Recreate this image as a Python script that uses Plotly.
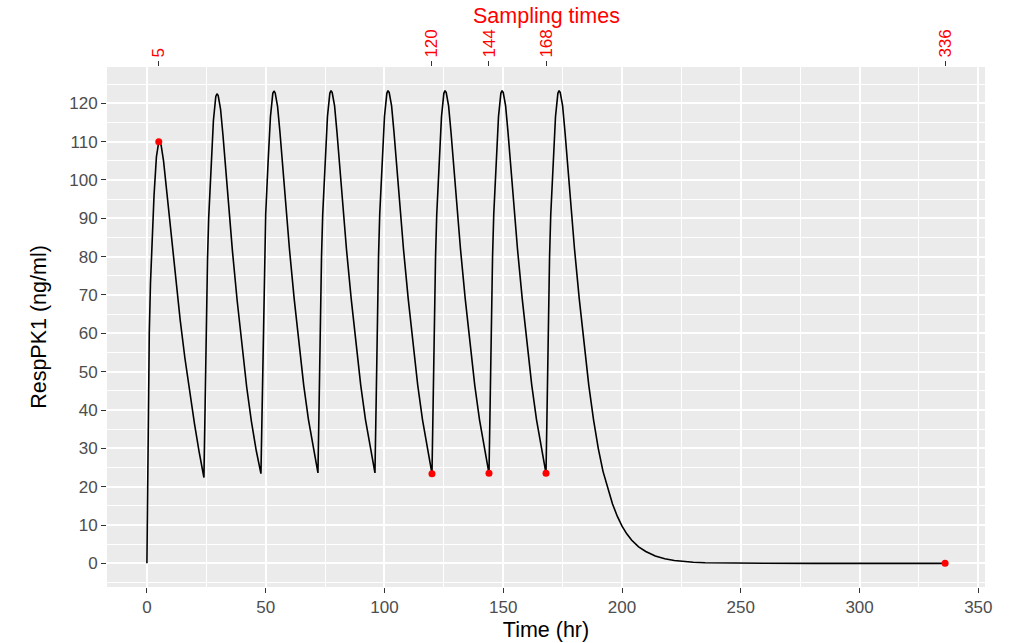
import plotly.graph_objects as go

# Dosing schedule (hr) and the time grid within each 24 h dosing interval
dose_times = [0, 24, 48, 72, 96, 120, 144, 168]
hours_after_dose = [0, 0.5, 1, 1.5, 2, 3, 4, 5, 5.5, 6, 7, 8, 10, 12, 14, 16, 18, 20, 22]

# RespPK1 concentration (ng/ml) for each dosing interval
conc_dose1 = [0.0, 35.0, 60.0, 73.0, 82.0, 96.0, 106.0, 110.0, 109.8, 109.0, 105.0, 99.0, 86.0, 74.0, 63.5, 53.5, 44.5, 36.5, 29.0]
conc_dose2 = [22.4, 41.0, 64.0, 79.0, 90.0, 103.5, 115.5, 121.8, 122.5, 122.0, 118.5, 111.8, 96.0, 81.5, 68.5, 57.5, 46.0, 37.0, 29.5]
conc_dose3 = [23.4, 42.0, 65.0, 80.0, 91.0, 104.5, 116.5, 122.6, 123.2, 122.7, 119.2, 112.5, 96.5, 82.0, 69.0, 58.0, 46.5, 37.5, 30.0]
conc_dose4 = [23.6, 42.0, 65.0, 80.0, 91.0, 104.5, 116.5, 122.6, 123.3, 122.8, 119.3, 112.5, 96.5, 82.0, 69.0, 58.0, 46.5, 37.5, 30.0]
conc_dose5 = [23.6, 42.0, 65.0, 80.0, 91.0, 104.5, 116.5, 122.6, 123.3, 122.8, 119.3, 112.5, 96.5, 82.0, 69.0, 58.0, 46.5, 37.5, 30.0]
conc_dose6 = [23.4, 42.0, 65.0, 80.0, 91.0, 104.5, 116.5, 122.6, 123.3, 122.8, 119.3, 112.5, 96.5, 82.0, 69.0, 58.0, 46.5, 37.5, 30.0]
conc_dose7 = [23.5, 42.0, 65.0, 80.0, 91.0, 104.5, 116.5, 122.6, 123.3, 122.8, 119.3, 112.5, 96.5, 82.0, 69.0, 58.0, 46.5, 37.5, 30.0]
conc_dose8 = [23.5, 42.0, 65.0, 80.0, 91.0, 104.5, 116.5, 122.6, 123.3, 122.8, 119.3, 112.5, 96.5, 82.0, 69.0, 58.0, 46.5, 37.5, 30.0]

# Washout after the last dose
washout_times = [192, 194, 196, 198, 200, 202, 204, 207, 210, 214, 218, 222, 226, 230, 235, 240, 250, 260, 280, 300, 336]
washout_conc = [24.0, 19.5, 15.5, 12.3, 9.7, 7.7, 6.1, 4.3, 3.1, 1.9, 1.2, 0.75, 0.47, 0.3, 0.17, 0.1, 0.035, 0.012, 0.002, 0.0, 0.0]

# Sampling times and the concentrations observed there
sample_times = [5, 120, 144, 168, 336]
sample_conc = [110.0, 23.4, 23.5, 23.5, 0.0]

# Axis breaks
x_ticks = [0, 50, 100, 150, 200, 250, 300, 350]
y_ticks = [0, 10, 20, 30, 40, 50, 60, 70, 80, 90, 100, 110, 120]

interval_conc = [conc_dose1, conc_dose2, conc_dose3, conc_dose4,
                 conc_dose5, conc_dose6, conc_dose7, conc_dose8]

time_all, conc_all = [], []
for start, conc in zip(dose_times, interval_conc):
    time_all += [start + h for h in hours_after_dose]
    conc_all += conc
time_all += washout_times
conc_all += washout_conc

FONT = "Liberation Sans, Arial, sans-serif"
GRID = "#FFFFFF"
PANEL = "#EBEBEB"

fig = go.Figure()
fig.add_trace(go.Scatter(
    x=time_all, y=conc_all, mode="lines",
    line=dict(color="black", width=1.6),
    hoverinfo="skip", showlegend=False,
))
fig.add_trace(go.Scatter(
    x=sample_times, y=sample_conc, mode="markers", xaxis="x2",
    marker=dict(color="#FF0000", size=7, line=dict(width=0)),
    showlegend=False,
))

x_min, x_max = 0, 336
x_pad = 0.05 * (x_max - x_min)
y_min, y_max = 0, max(conc_all)
y_pad = 0.05 * (y_max - y_min)
x_range = [x_min - x_pad, x_max + x_pad]
y_range = [y_min - y_pad, y_max + y_pad]

fig.update_layout(
    width=1011, height=643,
    margin=dict(l=107, r=26, t=67, b=56),
    paper_bgcolor="white",
    plot_bgcolor=PANEL,
    font=dict(family=FONT, color="#4D4D4D", size=17),
    xaxis=dict(
        range=x_range, tickvals=x_ticks, ticktext=[str(v) for v in x_ticks],
        automargin=False,
        showgrid=True, gridcolor=GRID, gridwidth=1.6,
        minor=dict(tickvals=[25, 75, 125, 175, 225, 275, 325],
                   showgrid=True, gridcolor=GRID, gridwidth=0.8, ticks=""),
        zeroline=False, showline=False,
        ticks="outside", ticklen=5, tickwidth=1.1, tickcolor="#333333",
        tickfont=dict(size=17, color="#4D4D4D"),
        title=dict(text="Time (hr)", font=dict(size=21.5, color="black"), standoff=5),
    ),
    xaxis2=dict(
        overlaying="x", side="top", range=x_range, automargin=False,
        tickvals=sample_times, ticktext=[str(v) for v in sample_times],
        tickangle=-90, showgrid=False, zeroline=False, showline=False,
        ticks="outside", ticklen=5, tickwidth=1.1, tickcolor="#333333",
        tickfont=dict(size=17, color="#FF0000"),
    ),
    yaxis=dict(
        range=y_range, tickvals=y_ticks, ticktext=[str(v) for v in y_ticks],
        automargin=False,
        showgrid=True, gridcolor=GRID, gridwidth=1.6,
        minor=dict(tickvals=[-5] + [v + 5 for v in y_ticks],
                   showgrid=True, gridcolor=GRID, gridwidth=0.8, ticks=""),
        zeroline=False, showline=False,
        ticks="outside", ticklen=5, tickwidth=1.1, tickcolor="#333333",
        tickfont=dict(size=17, color="#4D4D4D"),
        title=dict(text="RespPK1 (ng/ml)", font=dict(size=21.5, color="black"), standoff=16),
    ),
    annotations=[dict(
        text="Sampling times", xref="paper", yref="paper", x=0.5, y=1,
        xanchor="center", yanchor="bottom", yshift=37, showarrow=False,
        font=dict(family=FONT, size=21.5, color="#FF0000"),
    )],
)

fig.write_html("out.html")
